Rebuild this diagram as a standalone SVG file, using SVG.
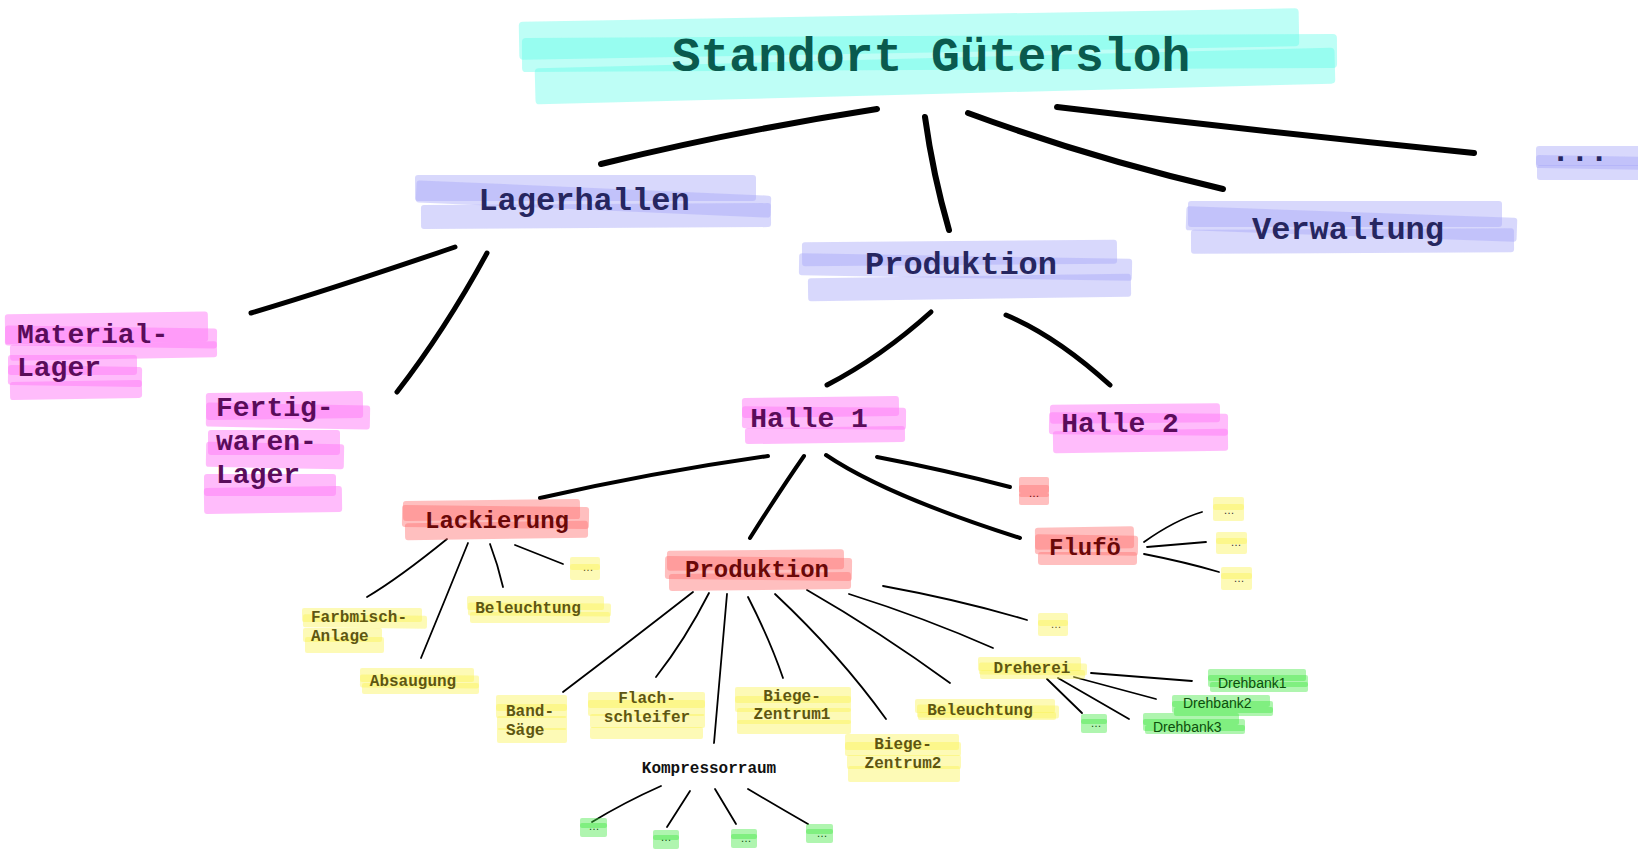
<svg xmlns="http://www.w3.org/2000/svg" width="1638" height="850" viewBox="0 0 1638 850">
<style>
.hc{fill:#5cfde8;opacity:.4}
.hl{fill:#a8a8f8;opacity:.45}
.hm{fill:#ff79f7;opacity:.5}
.hr{fill:#ff7070;opacity:.45}
.hy{fill:#faf250;opacity:.42}
.hg{fill:#40e840;opacity:.42}
.t{font-family:"Liberation Mono","Courier New",monospace;font-weight:bold}
.s{font-family:"Liberation Sans",Arial,sans-serif}
.c{stroke:#000;fill:none;stroke-linecap:round}
.w1{stroke-width:6}.w2{stroke-width:5}.w3{stroke-width:4}.w4{stroke-width:1.8}
.tc{fill:#0a5a4e;font-size:48px}
.tl{fill:#262660;font-size:32px}
.tm{fill:#5a0c5a;font-size:28px}
.tr{fill:#6a0808;font-size:24px}
.ty{fill:#5e5612;font-size:16px}
.tg{fill:#0d4d0d;font-size:14px}
.dot{font-size:11px}
</style>
<rect width="1638" height="850" fill="#fff"/>
<g id="connectors">
<path class="c w1" d="M601,164 Q735,131 877,109"/>
<path class="c w1" d="M925,117 Q933,175 949,230"/>
<path class="c w1" d="M968,113 Q1090,158 1223,189"/>
<path class="c w1" d="M1057,107 Q1265,132 1474,153"/>
<path class="c w2" d="M455,247 Q335,288 251,313"/>
<path class="c w2" d="M487,253 Q445,330 397,392"/>
<path class="c w2" d="M931,312 Q881,357 827,385"/>
<path class="c w2" d="M1006,315 Q1056,336 1110,385"/>
<path class="c w3" d="M768,456 Q655,472 540,498"/>
<path class="c w3" d="M804,456 Q781,489 750,538"/>
<path class="c w3" d="M826,455 Q885,495 1020,538"/>
<path class="c w3" d="M877,457 Q945,470 1010,487"/>
<path class="c w4" d="M447,539 Q399,578 367,597"/>
<path class="c w4" d="M468,543 Q445,600 421,658"/>
<path class="c w4" d="M490,544 Q498,565 503,587"/>
<path class="c w4" d="M515,545 L563,564"/>
<path class="c w4" d="M693,592 Q625,645 563,692"/>
<path class="c w4" d="M709,593 Q685,640 656,677"/>
<path class="c w4" d="M727,594 L714,743"/>
<path class="c w4" d="M748,597 Q770,640 783,678"/>
<path class="c w4" d="M775,594 Q840,655 886,719"/>
<path class="c w4" d="M807,590 Q880,632 950,683"/>
<path class="c w4" d="M849,594 Q925,618 993,648"/>
<path class="c w4" d="M883,586 Q960,600 1027,620"/>
<path class="c w4" d="M1144,542 Q1175,520 1202,512"/>
<path class="c w4" d="M1147,547 L1206,542"/>
<path class="c w4" d="M1144,554 Q1185,562 1219,572"/>
<path class="c w4" d="M1091,673 L1192,681"/>
<path class="c w4" d="M1074,677 L1156,699"/>
<path class="c w4" d="M1058,678 L1129,719"/>
<path class="c w4" d="M1047,679 L1082,713"/>
<path class="c w4" d="M661,786 Q625,802 592,822"/>
<path class="c w4" d="M690,791 L667,827"/>
<path class="c w4" d="M715,789 L736,824"/>
<path class="c w4" d="M748,789 Q780,808 808,824"/>
</g>
<g id="title">
<rect class="hc" x="519" y="15" width="780" height="38" rx="4" transform="rotate(-1 909 34)"/>
<rect class="hc" x="522" y="36" width="815" height="34" rx="4" transform="rotate(-0.3 929 53)"/>
<rect class="hc" x="535" y="58" width="800" height="36" rx="4" transform="rotate(-1.5 935 76)"/>
<text class="t tc" x="931" y="71" text-anchor="middle">Standort Gütersloh</text>
</g>
<g id="lagerhallen">
<rect class="hl" x="415" y="175" width="341" height="26" rx="3"/>
<rect class="hl" x="416" y="188" width="355" height="22" rx="3" transform="rotate(2.5 593 199)"/>
<rect class="hl" x="421" y="204" width="350" height="24" rx="3" transform="rotate(-0.3 596 216)"/>
<text class="t tl" x="584" y="210" text-anchor="middle">Lagerhallen</text>
</g>
<g id="produktion">
<rect class="hl" x="802" y="241" width="315" height="24" rx="3" transform="rotate(-0.5 959 253)"/>
<rect class="hl" x="799" y="256" width="333" height="22" rx="3" transform="rotate(1 965 267)"/>
<rect class="hl" x="808" y="276" width="323" height="23" rx="3" transform="rotate(-0.8 969 287)"/>
<text class="t tl" x="961" y="274" text-anchor="middle">Produktion</text>
</g>
<g id="verwaltung">
<rect class="hl" x="1188" y="201" width="314" height="26" rx="3"/>
<rect class="hl" x="1186" y="212" width="331" height="24" rx="3" transform="rotate(2 1351 224)"/>
<rect class="hl" x="1191" y="229" width="323" height="24" rx="3" transform="rotate(-0.3 1352 241)"/>
<text class="t tl" x="1348" y="239" text-anchor="middle">Verwaltung</text>
</g>
<g id="weitere">
<rect class="hl" x="1536" y="146" width="110" height="20" rx="3"/>
<rect class="hl" x="1536" y="156" width="110" height="13" rx="3" transform="rotate(1 1591 162)"/>
<rect class="hl" x="1537" y="165" width="110" height="15" rx="3"/>
<text class="t tl" x="1551" y="161">...</text>
</g>
<g id="materiallager">
<rect class="hm" x="5" y="313" width="203" height="30" rx="3" transform="rotate(-0.8 106 328)"/>
<rect class="hm" x="5" y="327" width="212" height="20" rx="3" transform="rotate(0.8 111 337)"/>
<rect class="hm" x="10" y="343" width="207" height="16" rx="3" transform="rotate(-1 113 351)"/>
<rect class="hm" x="8" y="355" width="129" height="20" rx="3"/>
<rect class="hm" x="8" y="366" width="134" height="20" rx="3" transform="rotate(1 75 376)"/>
<rect class="hm" x="10" y="381" width="132" height="18" rx="3" transform="rotate(-1 76 390)"/>
<text class="t tm" x="17" y="343">Material-</text>
<text class="t tm" x="17" y="376">Lager</text>
</g>
<g id="fertigwarenlager">
<rect class="hm" x="206" y="392" width="157" height="27" rx="3" transform="rotate(-0.8 284 405)"/>
<rect class="hm" x="206" y="404" width="164" height="24" rx="3" transform="rotate(1 288 416)"/>
<rect class="hm" x="208" y="430" width="132" height="25" rx="3"/>
<rect class="hm" x="206" y="443" width="138" height="25" rx="3" transform="rotate(1 275 455)"/>
<rect class="hm" x="204" y="474" width="132" height="22" rx="3"/>
<rect class="hm" x="204" y="487" width="138" height="26" rx="3" transform="rotate(-0.8 273 500)"/>
<text class="t tm" x="216" y="416">Fertig-</text>
<text class="t tm" x="216" y="450">waren-</text>
<text class="t tm" x="216" y="483">Lager</text>
</g>
<g id="halle1">
<rect class="hm" x="742" y="397" width="157" height="20" rx="3" transform="rotate(-0.8 820 407)"/>
<rect class="hm" x="742" y="407" width="164" height="22" rx="3" transform="rotate(0.5 824 418)"/>
<rect class="hm" x="745" y="427" width="160" height="16" rx="3" transform="rotate(-0.8 825 435)"/>
<text class="t tm" x="809" y="427" text-anchor="middle">Halle 1</text>
</g>
<g id="halle2">
<rect class="hm" x="1050" y="404" width="170" height="19" rx="3" transform="rotate(-0.5 1135 413)"/>
<rect class="hm" x="1049" y="413" width="179" height="22" rx="3" transform="rotate(0.5 1138 424)"/>
<rect class="hm" x="1053" y="430" width="175" height="22" rx="3" transform="rotate(-0.8 1140 441)"/>
<text class="t tm" x="1120" y="432" text-anchor="middle">Halle 2</text>
</g>
<g id="lackierung">
<rect class="hr" x="403" y="500" width="177" height="20" rx="3" transform="rotate(-0.6 491 510)"/>
<rect class="hr" x="402" y="506" width="187" height="22" rx="3" transform="rotate(0.6 495 517)"/>
<rect class="hr" x="405" y="522" width="183" height="17" rx="3" transform="rotate(-0.8 496 530)"/>
<text class="t tr" x="497" y="528" text-anchor="middle">Lackierung</text>
</g>
<g id="produktion-halle1">
<rect class="hr" x="667" y="550" width="177" height="20" rx="3" transform="rotate(-0.5 755 560)"/>
<rect class="hr" x="665" y="557" width="187" height="23" rx="3" transform="rotate(0.6 758 568)"/>
<rect class="hr" x="669" y="573" width="182" height="17" rx="3" transform="rotate(-0.6 760 581)"/>
<text class="t tr" x="757" y="577" text-anchor="middle">Produktion</text>
</g>
<g id="flufoe">
<rect class="hr" x="1035" y="527" width="99" height="22" rx="3" transform="rotate(-0.8 1084 538)"/>
<rect class="hr" x="1035" y="535" width="103" height="20" rx="3" transform="rotate(0.8 1086 545)"/>
<rect class="hr" x="1038" y="552" width="99" height="13" rx="3"/>
<text class="t tr" x="1085" y="555" text-anchor="middle">Flufö</text>
</g>
<g id="halle1-weitere">
<rect class="hr" x="1019" y="477" width="30" height="16" rx="2"/>
<rect class="hr" x="1019" y="485" width="30" height="12" rx="2"/>
<rect class="hr" x="1019" y="493" width="30" height="12" rx="2"/>
<text class="s dot" x="1034" y="497" fill="#6a0808" text-anchor="middle">…</text>
</g>
<g id="farbmisch">
<rect class="hy" x="302" y="608" width="120" height="14" rx="2"/>
<rect class="hy" x="303" y="615" width="124" height="13" rx="2" transform="rotate(0.6 365 621)"/>
<rect class="hy" x="303" y="628" width="79" height="14" rx="2"/>
<rect class="hy" x="305" y="637" width="79" height="16" rx="2"/>
<text class="t ty" x="311" y="622">Farbmisch-</text>
<text class="t ty" x="311" y="641">Anlage</text>
</g>
<g id="absaugung">
<rect class="hy" x="360" y="668" width="114" height="14" rx="2"/>
<rect class="hy" x="360" y="675" width="119" height="13" rx="2" transform="rotate(0.6 420 681)"/>
<rect class="hy" x="362" y="683" width="117" height="11" rx="2"/>
<text class="t ty" x="413" y="686" text-anchor="middle">Absaugung</text>
</g>
<g id="beleuchtung-lack">
<rect class="hy" x="467" y="596" width="137" height="14" rx="2"/>
<rect class="hy" x="468" y="603" width="143" height="13" rx="2" transform="rotate(0.5 540 609)"/>
<rect class="hy" x="470" y="612" width="140" height="11" rx="2"/>
<text class="t ty" x="528" y="613" text-anchor="middle">Beleuchtung</text>
</g>
<g id="lack-weitere">
<rect class="hy" x="570" y="557" width="30" height="13" rx="2"/>
<rect class="hy" x="570" y="564" width="30" height="16" rx="2"/>
<text class="s dot" x="588" y="571" fill="#5e5612" text-anchor="middle">…</text>
</g>
<g id="bandsaege">
<rect class="hy" x="496" y="695" width="71" height="16" rx="2"/>
<rect class="hy" x="496" y="704" width="71" height="14" rx="2"/>
<rect class="hy" x="497" y="716" width="70" height="14" rx="2"/>
<rect class="hy" x="497" y="728" width="70" height="15" rx="2"/>
<text class="t ty" x="506" y="716">Band-</text>
<text class="t ty" x="506" y="735">Säge</text>
</g>
<g id="flachschleifer">
<rect class="hy" x="588" y="692" width="117" height="16" rx="2"/>
<rect class="hy" x="588" y="700" width="117" height="16" rx="2"/>
<rect class="hy" x="590" y="714" width="115" height="14" rx="2"/>
<rect class="hy" x="590" y="727" width="113" height="12" rx="2"/>
<text class="t ty" x="647" y="703" text-anchor="middle">Flach-</text>
<text class="t ty" x="647" y="722" text-anchor="middle">schleifer</text>
</g>
<g id="kompressorraum">
<text class="t" x="709" y="773" font-size="16" fill="#111" text-anchor="middle">Kompressorraum</text>
</g>
<g id="biegezentrum1">
<rect class="hy" x="735" y="687" width="116" height="16" rx="2"/>
<rect class="hy" x="735" y="696" width="116" height="16" rx="2"/>
<rect class="hy" x="737" y="708" width="114" height="16" rx="2"/>
<rect class="hy" x="737" y="720" width="114" height="14" rx="2"/>
<text class="t ty" x="792" y="701" text-anchor="middle">Biege-</text>
<text class="t ty" x="792" y="719" text-anchor="middle">Zentrum1</text>
</g>
<g id="biegezentrum2">
<rect class="hy" x="845" y="734" width="114" height="16" rx="2"/>
<rect class="hy" x="845" y="742" width="116" height="14" rx="2"/>
<rect class="hy" x="847" y="755" width="114" height="14" rx="2"/>
<rect class="hy" x="848" y="766" width="112" height="16" rx="2"/>
<text class="t ty" x="903" y="749" text-anchor="middle">Biege-</text>
<text class="t ty" x="903" y="768" text-anchor="middle">Zentrum2</text>
</g>
<g id="beleuchtung-prod">
<rect class="hy" x="915" y="699" width="140" height="14" rx="2"/>
<rect class="hy" x="917" y="705" width="142" height="13" rx="2" transform="rotate(0.5 988 711)"/>
<rect class="hy" x="918" y="712" width="138" height="8" rx="2"/>
<text class="t ty" x="980" y="715" text-anchor="middle">Beleuchtung</text>
</g>
<g id="dreherei">
<rect class="hy" x="978" y="657" width="103" height="14" rx="2"/>
<rect class="hy" x="979" y="663" width="108" height="12" rx="2" transform="rotate(0.6 1033 669)"/>
<rect class="hy" x="980" y="670" width="105" height="9" rx="2"/>
<text class="t ty" x="1032" y="673" text-anchor="middle">Dreherei</text>
</g>
<g id="prod-weitere">
<rect class="hy" x="1038" y="613" width="30" height="13" rx="2"/>
<rect class="hy" x="1038" y="620" width="30" height="16" rx="2"/>
<text class="s dot" x="1056" y="628" fill="#5e5612" text-anchor="middle">…</text>
</g>
<g id="flufoe-1">
<rect class="hy" x="1213" y="497" width="31" height="13" rx="2"/>
<rect class="hy" x="1213" y="504" width="31" height="17" rx="2"/>
<text class="s dot" x="1229" y="514" fill="#333" text-anchor="middle">…</text>
</g>
<g id="flufoe-2">
<rect class="hy" x="1216" y="532" width="31" height="12" rx="2"/>
<rect class="hy" x="1216" y="538" width="31" height="16" rx="2"/>
<text class="s dot" x="1236" y="546" fill="#333" text-anchor="middle">…</text>
</g>
<g id="flufoe-3">
<rect class="hy" x="1221" y="567" width="31" height="12" rx="2"/>
<rect class="hy" x="1221" y="573" width="31" height="17" rx="2"/>
<text class="s dot" x="1239" y="582" fill="#333" text-anchor="middle">…</text>
</g>
<g id="drehbank1">
<rect class="hg" x="1208" y="669" width="98" height="12" rx="2"/>
<rect class="hg" x="1208" y="675" width="100" height="12" rx="2"/>
<rect class="hg" x="1210" y="682" width="98" height="10" rx="2"/>
<text class="s tg" x="1218" y="688">Drehbank1</text>
</g>
<g id="drehbank2">
<rect class="hg" x="1172" y="695" width="98" height="12" rx="2"/>
<rect class="hg" x="1172" y="701" width="101" height="12" rx="2"/>
<rect class="hg" x="1174" y="707" width="99" height="9" rx="2"/>
<text class="s tg" x="1183" y="708">Drehbank2</text>
</g>
<g id="drehbank3">
<rect class="hg" x="1143" y="713" width="96" height="12" rx="2"/>
<rect class="hg" x="1143" y="719" width="102" height="12" rx="2"/>
<rect class="hg" x="1145" y="725" width="100" height="9" rx="2"/>
<text class="s tg" x="1153" y="732">Drehbank3</text>
</g>
<g id="dreherei-weitere">
<rect class="hg" x="1081" y="714" width="26" height="10" rx="2"/>
<rect class="hg" x="1081" y="719" width="26" height="14" rx="2"/>
<text class="s dot" x="1096" y="727" fill="#0d4d0d" text-anchor="middle">…</text>
</g>
<g id="kompressor-1">
<rect class="hg" x="580" y="818" width="27" height="10" rx="2"/>
<rect class="hg" x="580" y="823" width="27" height="14" rx="2"/>
<text class="s dot" x="594" y="830" fill="#0d4d0d" text-anchor="middle">…</text>
</g>
<g id="kompressor-2">
<rect class="hg" x="653" y="830" width="26" height="10" rx="2"/>
<rect class="hg" x="653" y="835" width="26" height="14" rx="2"/>
<text class="s dot" x="666" y="841" fill="#0d4d0d" text-anchor="middle">…</text>
</g>
<g id="kompressor-3">
<rect class="hg" x="731" y="829" width="26" height="10" rx="2"/>
<rect class="hg" x="731" y="834" width="26" height="14" rx="2"/>
<text class="s dot" x="746" y="842" fill="#0d4d0d" text-anchor="middle">…</text>
</g>
<g id="kompressor-4">
<rect class="hg" x="806" y="824" width="27" height="10" rx="2"/>
<rect class="hg" x="806" y="829" width="27" height="14" rx="2"/>
<text class="s dot" x="822" y="837" fill="#0d4d0d" text-anchor="middle">…</text>
</g>
</svg>
